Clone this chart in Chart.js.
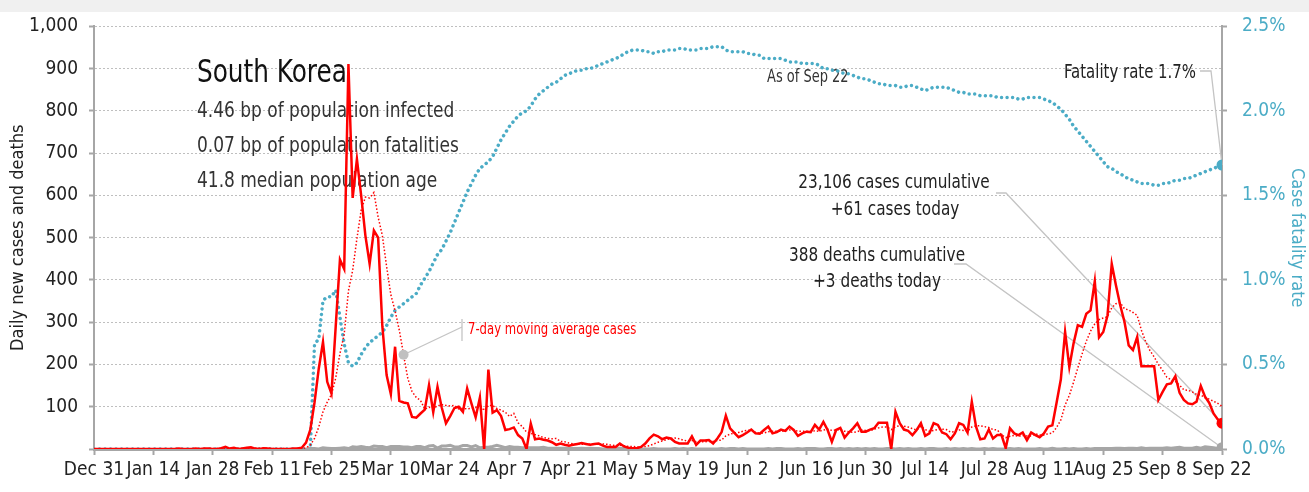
<!DOCTYPE html>
<html>
<head>
<meta charset="utf-8">
<script src="https://cdn.jsdelivr.net/npm/chart.js@4.4.0/dist/chart.umd.min.js"></script>
<style>
  html, body { margin: 0; padding: 0; background: #fff; }
  #wrap { position: relative; width: 1309px; height: 492px; }
</style>
</head>
<body>
<div id="wrap"><canvas id="chart" width="1309" height="492"></canvas></div>
<script>
// x axis: one point per day, Dec 31 (day 0) .. Sep 22 (day 266)
const tickLabels = ['Dec 31', 'Jan 14', 'Jan 28', 'Feb 11', 'Feb 25', 'Mar 10', 'Mar 24', 'Apr 7',
    'Apr 21', 'May 5', 'May 19', 'Jun 2', 'Jun 16', 'Jun 30', 'Jul 14', 'Jul 28', 'Aug 11',
    'Aug 25', 'Sep 8', 'Sep 22'];

// daily new cases
const cases = [
    0, 0, 0, 0, 0, 0, 0, 0, 0, 0,
    0, 0, 0, 0, 0, 0, 0, 0, 0, 0,
    1, 0, 0, 0, 1, 0, 1, 1, 0, 0,
    2, 5, 1, 3, 0, 1, 3, 4, 1, 0,
    2, 1, 0, 0, 0, 0, 0, 1, 1, 3,
    15, 45, 110, 190, 253, 159, 131, 290, 448, 426,
    911, 594, 686, 600, 505, 438, 517, 500, 290, 175,
    130, 242, 114, 110, 108, 76, 74, 84, 93, 151,
    87, 147, 98, 61, 78, 97, 100, 88, 143, 108,
    75, 122, 0, 188, 86, 92, 78, 45, 47, 51,
    33, 25, 0, 60, 23, 25, 22, 20, 16, 10,
    13, 10, 8, 10, 12, 14, 12, 10, 12, 13,
    8, 5, 5, 5, 13, 6, 3, 2, 2, 5,
    13, 25, 34, 30, 23, 27, 25, 17, 13, 13,
    13, 30, 10, 20, 20, 21, 13, 25, 40, 79,
    49, 38, 28, 33, 39, 46, 37, 36, 45, 53,
    37, 40, 46, 43, 53, 45, 31, 37, 41, 40,
    57, 46, 64, 45, 17, 45, 50, 27, 39, 49,
    61, 41, 41, 46, 49, 62, 62, 62, 0, 88,
    61, 46, 43, 33, 45, 61, 31, 37, 61, 57,
    39, 35, 23, 37, 61, 57, 39, 112, 53, 23,
    25, 46, 25, 33, 33, 2, 49, 37, 33, 39,
    21, 39, 33, 28, 37, 53, 56, 110, 165, 277,
    194, 250, 293, 289, 320, 328, 397, 264, 277, 316,
    438, 387, 340, 301, 245, 234, 265, 196, 196, 196,
    196, 116, 135, 153, 155, 172, 133, 116, 108, 106,
    112, 149, 124, 109, 84, 70, 61
];

// 7-day moving average of cases (dotted red)
const movingAvg = [
    0, 0, 0, 0, 0, 0, 0, 0, 0, 0,
    0, 0, 0, 0, 0, 0, 0, 0, 0, 0,
    0, 0, 0, 0, 0, 0, 0, 1, 1, 1,
    1, 1, 1, 2, 2, 2, 2, 2, 2, 2,
    2, 2, 1, 1, 1, 1, 0, 0, 0, 1,
    3, 9, 25, 52, 88, 111, 129, 168, 226, 271,
    374, 423, 498, 565, 596, 594, 607, 549, 505, 432,
    365, 327, 281, 223, 167, 136, 122, 115, 94, 99,
    96, 102, 105, 103, 102, 103, 95, 96, 95, 96,
    98, 105, 91, 103, 103, 96, 92, 87, 77, 84,
    62, 53, 40, 37, 34, 31, 27, 25, 24, 25,
    18, 17, 14, 12, 11, 11, 11, 11, 11, 12,
    12, 11, 9, 8, 9, 8, 6, 6, 5, 5,
    6, 8, 12, 16, 19, 22, 25, 26, 24, 21,
    19, 20, 17, 17, 17, 18, 18, 20, 21, 31,
    35, 38, 39, 42, 44, 45, 39, 37, 38, 41,
    42, 42, 42, 43, 45, 45, 42, 42, 42, 41,
    43, 42, 45, 47, 44, 45, 46, 42, 41, 39,
    41, 45, 44, 43, 47, 50, 52, 52, 46, 53,
    55, 54, 52, 48, 45, 54, 46, 42, 44, 46,
    47, 46, 40, 41, 45, 44, 42, 52, 55, 55,
    53, 51, 46, 45, 34, 27, 30, 32, 30, 32,
    31, 31, 36, 33, 33, 36, 38, 51, 69, 104,
    127, 158, 192, 225, 255, 279, 296, 306, 310, 313,
    334, 344, 346, 332, 329, 323, 316, 281, 254, 233,
    218, 200, 186, 170, 164, 160, 151, 140, 139, 135,
    129, 128, 121, 118, 113, 108, 101
];

// daily deaths (grey), nothing plotted before Feb 19
const deaths = [
    null, null, null, null, null, null, null, null, null, null,
    null, null, null, null, null, null, null, null, null, null,
    null, null, null, null, null, null, null, null, null, null,
    null, null, null, null, null, null, null, null, null, null,
    null, null, null, null, null, null, null, null, null, null,
    0, 1, 1, 0, 3, 2, 1, 1, 2, 3,
    1, 5, 4, 6, 4, 3, 7, 6, 6, 3,
    6, 6, 6, 5, 5, 3, 6, 6, 3, 7,
    8, 2, 7, 7, 9, 5, 5, 8, 8, 5,
    8, 3, 4, 4, 6, 9, 6, 3, 6, 4,
    4, 3, 3, 3, 3, 3, 4, 2, 2, 2,
    2, 2, 1, 1, 1, 2, 1, 2, 1, 1,
    0, 1, 0, 1, 2, 1, 1, 1, 0, 0,
    0, 0, 1, 0, 0, 0, 0, 1, 0, 1,
    0, 1, 0, 0, 0, 0, 0, 0, 1, 0,
    1, 1, 0, 1, 0, 0, 0, 0, 0, 1,
    0, 1, 1, 0, 0, 0, 1, 0, 1, 1,
    1, 0, 0, 1, 1, 0, 1, 0, 1, 0,
    1, 0, 1, 0, 1, 0, 0, 1, 1, 0,
    1, 0, 1, 0, 0, 1, 0, 1, 1, 0,
    0, 1, 0, 1, 0, 1, 0, 1, 0, 0,
    1, 0, 1, 0, 0, 0, 1, 0, 1, 0,
    0, 0, 0, 1, 0, 0, 2, 0, 0, 1,
    0, 1, 0, 0, 1, 0, 1, 1, 1, 1,
    1, 2, 2, 1, 2, 2, 1, 3, 1, 2,
    2, 2, 2, 3, 2, 3, 4, 2, 2, 2,
    4, 2, 5, 4, 3, 1, 3
];

// case fatality rate, percent (right axis)
const fatalityRate = [
    0, 0, 0, 0, 0, 0, 0, 0, 0, 0,
    0, 0, 0, 0, 0, 0, 0, 0, 0, 0,
    0, 0, 0, 0, 0, 0, 0, 0, 0, 0,
    0, 0, 0, 0, 0, 0, 0, 0, 0, 0,
    0, 0, 0, 0, 0, 0, 0, 0, 0, 0,
    0, 0, 0.62, 0.65, 0.88, 0.90, 0.90, 0.94, 0.78, 0.62,
    0.51, 0.49, 0.51, 0.56, 0.60, 0.63, 0.65, 0.67, 0.69, 0.73,
    0.78, 0.82, 0.84, 0.86, 0.88, 0.90, 0.92, 0.97, 1.01, 1.05,
    1.10, 1.15, 1.18, 1.23, 1.28, 1.34, 1.40, 1.46, 1.52, 1.57,
    1.62, 1.66, 1.68, 1.70, 1.73, 1.78, 1.83, 1.87, 1.91, 1.94,
    1.97, 1.99, 2.00, 2.03, 2.07, 2.10, 2.12, 2.14, 2.16, 2.17,
    2.19, 2.21, 2.22, 2.23, 2.24, 2.24, 2.25, 2.25, 2.26, 2.27,
    2.28, 2.29, 2.30, 2.31, 2.32, 2.34, 2.35, 2.36, 2.36, 2.36,
    2.35, 2.35, 2.34, 2.35, 2.35, 2.36, 2.36, 2.36, 2.37, 2.37,
    2.36, 2.36, 2.36, 2.37, 2.37, 2.37, 2.38, 2.38, 2.38, 2.36,
    2.35, 2.35, 2.35, 2.35, 2.34, 2.34, 2.33, 2.33, 2.31, 2.31,
    2.31, 2.31, 2.31, 2.30, 2.29, 2.29, 2.29, 2.28, 2.28, 2.28,
    2.28, 2.27, 2.25, 2.25, 2.24, 2.24, 2.23, 2.22, 2.22, 2.21,
    2.20, 2.19, 2.19, 2.18, 2.17, 2.16, 2.16, 2.15, 2.15, 2.15,
    2.14, 2.14, 2.15, 2.15, 2.14, 2.13, 2.12, 2.13, 2.14, 2.14,
    2.14, 2.14, 2.13, 2.12, 2.11, 2.11, 2.10, 2.10, 2.10, 2.09,
    2.09, 2.09, 2.09, 2.08, 2.08, 2.08, 2.08, 2.08, 2.07, 2.07,
    2.08, 2.08, 2.08, 2.08, 2.07, 2.06, 2.05, 2.03, 2.01, 1.98,
    1.95, 1.91, 1.88, 1.85, 1.82, 1.79, 1.76, 1.73, 1.70, 1.67,
    1.66, 1.64, 1.63, 1.61, 1.60, 1.59, 1.58, 1.57, 1.57, 1.57,
    1.56, 1.56, 1.57, 1.57, 1.58, 1.59, 1.59, 1.60, 1.60, 1.61,
    1.62, 1.63, 1.64, 1.65, 1.66, 1.67, 1.68
];

const lastDay = cases.length - 1;
const maMarkerDay = 73;   // where the "7-day moving average" callout points

const FONT = "'Liberation Sans Narrow', 'DejaVu Sans Condensed', 'Arial Narrow', sans-serif";
const RED = '#ff0000';
const TEAL = '#4bacc6';
const GREY = '#a6a6a6';
const LEADER = '#c4c4c4';

Chart.defaults.font.family = FONT;
Chart.defaults.color = '#222';

function toPoints(arr) {
    return arr.map((v, i) => ({x: i, y: v}));
}

function endDot(radius) {
    return ctx => ctx.dataIndex === lastDay ? radius : 0;
}

// text squeezed horizontally to look like the narrow face of the original
function drawText(ctx, str, x, y, size, color, align, squeeze) {
    ctx.save();
    ctx.translate(x, y);
    ctx.scale(squeeze || 0.85, 1);
    ctx.font = size + 'px ' + FONT;
    ctx.fillStyle = color;
    ctx.textAlign = align || 'left';
    ctx.textBaseline = 'alphabetic';
    ctx.fillText(str, 0, 0);
    ctx.restore();
}

function polyline(ctx, pts) {
    ctx.beginPath();
    ctx.moveTo(pts[0][0], pts[0][1]);
    for (let i = 1; i < pts.length; i++) ctx.lineTo(pts[i][0], pts[i][1]);
    ctx.stroke();
}

const annotations = {
    id: 'annotations',
    beforeDraw(chart) {
        const ctx = chart.ctx;
        ctx.save();
        ctx.fillStyle = '#f0f0f0';
        ctx.fillRect(0, 0, chart.width, 12);
        ctx.restore();
    },
    beforeDatasetsDraw(chart) {
        const {ctx, scales: {x, y, y1}} = chart;
        ctx.save();

        // title block
        drawText(ctx, 'South Korea', 197, 82, 32, '#111', 'left', 0.86);
        drawText(ctx, '4.46 bp of population infected', 197, 117, 22, '#333', 'left', 0.86);
        drawText(ctx, '0.07 bp of population fatalities', 197, 152, 22, '#333', 'left', 0.86);
        drawText(ctx, '41.8 median population age', 197, 187, 22, '#333', 'left', 0.86);

        drawText(ctx, 'As of Sep 22', 767, 82, 17, '#333', 'left', 0.85);

        // right hand callouts
        const xEnd = x.getPixelForValue(lastDay);
        ctx.strokeStyle = LEADER;
        ctx.lineWidth = 1.3;

        drawText(ctx, 'Fatality rate 1.7%', 1196, 78, 20, '#222', 'right', 0.83);
        polyline(ctx, [[1200, 71], [1211, 71], [xEnd, y1.getPixelForValue(fatalityRate[lastDay])]]);

        drawText(ctx, '23,106 cases cumulative', 894, 188, 20, '#222', 'center', 0.85);
        drawText(ctx, '+61 cases today', 895, 215, 20, '#222', 'center', 0.85);
        polyline(ctx, [[996, 193], [1006, 193], [xEnd, y.getPixelForValue(cases[lastDay])]]);

        drawText(ctx, '388 deaths cumulative', 877, 261, 20, '#222', 'center', 0.85);
        drawText(ctx, '+3 deaths today', 877, 287, 20, '#222', 'center', 0.85);
        polyline(ctx, [[954, 264], [966, 264], [xEnd, y.getPixelForValue(deaths[lastDay])]]);

        // moving average callout
        drawText(ctx, '7-day moving average cases', 468, 334, 16, RED, 'left', 0.81);
        polyline(ctx, [[462, 319], [462, 341]]);
        polyline(ctx, [[462, 327], [x.getPixelForValue(maMarkerDay), y.getPixelForValue(movingAvg[maMarkerDay])]]);

        ctx.restore();
    }
};

new Chart(document.getElementById('chart'), {
    type: 'line',
    data: {
        datasets: [
            {
                label: 'Daily new cases',
                data: toPoints(cases),
                yAxisID: 'y',
                borderColor: RED,
                borderWidth: 2.5,
                pointRadius: endDot(5.5),
                pointBackgroundColor: RED,
                pointBorderWidth: 0,
                order: 1
            },
            {
                label: '7-day moving average cases',
                data: toPoints(movingAvg),
                yAxisID: 'y',
                borderColor: RED,
                borderWidth: 1.5,
                borderDash: [1.5, 2],
                pointRadius: ctx => ctx.dataIndex === maMarkerDay ? 5 : 0,
                pointBackgroundColor: '#c0c0c0',
                pointBorderWidth: 0,
                order: 2
            },
            {
                label: 'Daily deaths',
                data: toPoints(deaths),
                yAxisID: 'y',
                borderColor: GREY,
                borderWidth: 3,
                pointRadius: endDot(5.5),
                pointBackgroundColor: GREY,
                pointBorderWidth: 0,
                order: 3
            },
            {
                label: 'Case fatality rate',
                data: toPoints(fatalityRate),
                yAxisID: 'y1',
                borderColor: TEAL,
                borderWidth: 3.5,
                borderDash: [0.01, 5.5],
                borderCapStyle: 'round',
                pointRadius: endDot(5.5),
                pointBackgroundColor: TEAL,
                pointBorderWidth: 0,
                order: 4
            }
        ]
    },
    options: {
        responsive: false,
        animation: false,
        devicePixelRatio: 1,
        layout: {padding: {top: 25, left: 0, right: 0, bottom: 0}},
        plugins: {legend: {display: false}, tooltip: {enabled: false}},
        scales: {
            x: {
                type: 'linear',
                min: 0,
                max: lastDay,
                afterFit: s => { s.height = 43; },
                ticks: {
                    stepSize: 14,
                    autoSkip: false,
                    maxRotation: 0,
                    padding: 4,
                    color: '#222',
                    font: {size: 19},
                    callback: (v, i) => tickLabels[i]
                },
                grid: {drawOnChartArea: false, tickLength: 6, tickColor: GREY, tickWidth: 2},
                border: {display: true, color: GREY, width: 3}
            },
            y: {
                position: 'left',
                min: 0,
                max: 1000,
                afterFit: s => { s.width = 94; },
                ticks: {
                    stepSize: 100,
                    padding: 11,
                    color: '#222',
                    font: {size: 19},
                    callback: v => v === 0 ? '' : v.toLocaleString('en-US')
                },
                grid: {
                    color: ctx => ctx.tick && ctx.tick.value === 0 ? 'rgba(0,0,0,0)' : '#bfbfbf',
                    lineWidth: 1,
                    tickLength: 5,
                    tickColor: GREY,
                    tickWidth: 2
                },
                border: {display: true, color: GREY, width: 2, dash: [2, 2]},
                title: {display: true, text: 'Daily new cases and deaths', color: '#222', font: {size: 18}, padding: {top: 8}}
            },
            y1: {
                position: 'right',
                min: 0,
                max: 2.5,
                afterFit: s => { s.width = 87; },
                ticks: {
                    stepSize: 0.5,
                    padding: 15,
                    color: TEAL,
                    font: {size: 19},
                    callback: v => v.toFixed(1) + '%'
                },
                grid: {drawOnChartArea: false, tickLength: 5, tickColor: GREY, tickWidth: 2},
                border: {display: true, color: GREY, width: 2},
                title: {display: true, text: 'Case fatality rate', color: TEAL, font: {size: 18}, padding: {top: 2}}
            }
        }
    },
    plugins: [annotations]
});
</script>
</body>
</html>
